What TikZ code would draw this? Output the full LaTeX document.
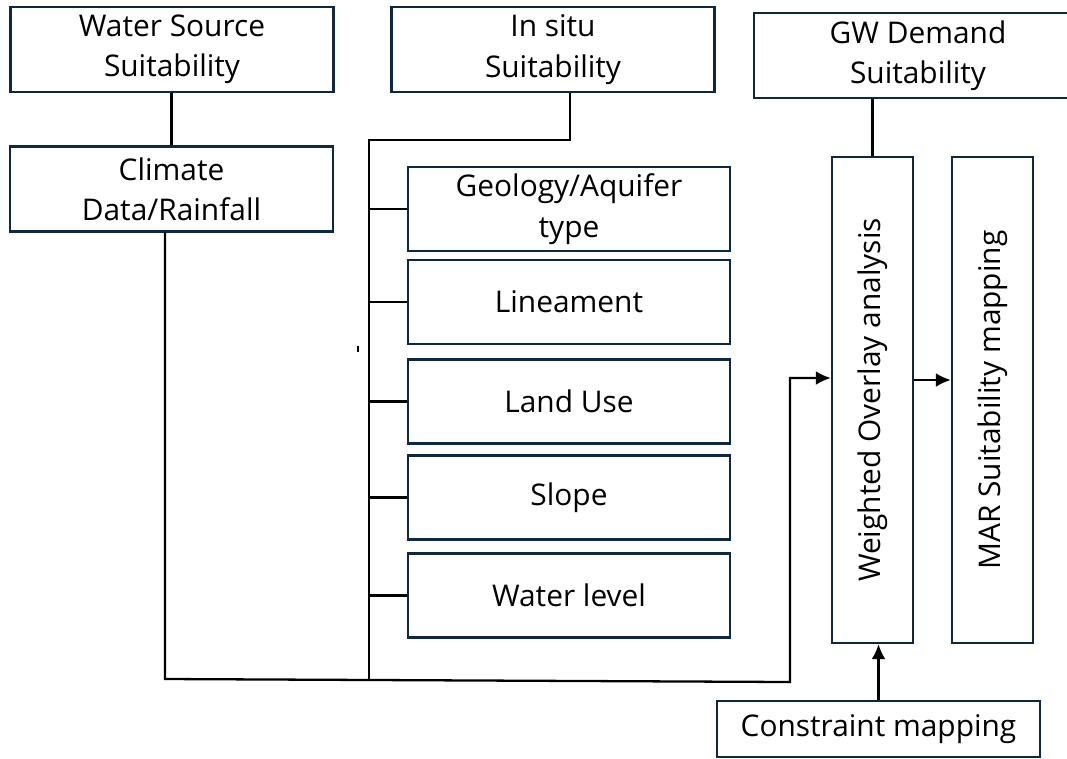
\documentclass[tikz,border=0pt]{standalone}
\usepackage{fontspec}
\setmainfont{Open Sans}
\usetikzlibrary{arrows.meta}
\definecolor{boxline}{RGB}{14,40,65}
\tikzset{
  box/.style={draw=boxline, line width=1.4pt, align=center, inner sep=0pt,
    minimum width=6.46cm, minimum height=1.7cm, font=\fontsize{17}{23}\selectfont},
  subbox/.style={box, minimum width=6.44cm, minimum height=1.68cm},
  vbox/.style={box, minimum width=1.62cm, minimum height=9.72cm},
  wire/.style={line width=1.3pt}
}
\begin{document}
\begin{tikzpicture}[x=0.02cm, y=-0.02cm, >={Latex[length=3mm,width=2.8mm]}]
\useasboundingbox (0,0) rectangle (1067,758);
\node[box] (ws) at (172,49.5) {Water Source\\Suitability};
\node[box] (insitu) at (553,49.5) {In situ\\Suitability};
\node[box, minimum width=6.56cm] (gw) at (918,55.5) {GW Demand\\Suitability};
\node[box] (climate) at (171.5,189) {Climate\\Data/Rainfall};
\node[subbox] (geo) at (569,209) {Geology/Aquifer\\type};
\node[subbox] (lin) at (569,302) {Lineament};
\node[subbox] (land) at (569,401.5) {Land Use};
\node[subbox] (slope) at (569,497.5) {Slope};
\node[subbox] (wlevel) at (569,595.5) {Water level};
\node[vbox] (wo) at (872.5,400) {};
\node[rotate=90, font=\fontsize{17}{23}\selectfont] (wotext) at (wo) {Weighted Overlay analysis};
\node[vbox] (mar) at (992.5,400) {};
\node[rotate=90, font=\fontsize{17}{23}\selectfont] (martext) at (mar) {MAR Suitability mapping};
\node[box, minimum height=1.12cm] (cons) at (878.5,729) {Constraint mapping};
\coordinate (drop) at (570,140);
\coordinate (spine) at (369,140);
\coordinate (b1) at (165,679);
\coordinate (b2) at (790,682);
\coordinate (tap) at (790,378);
\draw[wire] (ws.south -| climate.north) -- (climate.north);
\draw[wire] (insitu.south -| drop) -- (drop) -- (spine) -- (spine |- b1);
\foreach \n in {geo,lin,land,slope,wlevel}
  \draw[wire] (\n.west -| spine) -- (\n.west);
\draw[wire,->] (climate.south -| b1) -- (b1) -- (b2) -- (tap) -- (tap -| wo.west);
\draw[wire] (wo.north |- gw.south) -- (wo.north);
\draw[wire,->] ([yshift=0.4cm]wo.east) -- ([yshift=0.4cm]mar.west);
\draw[wire,->] (cons.north) -- (cons.north |- wo.south);
\draw[line width=1.5pt] (358,346) -- (358,352);
\end{tikzpicture}
\end{document}
